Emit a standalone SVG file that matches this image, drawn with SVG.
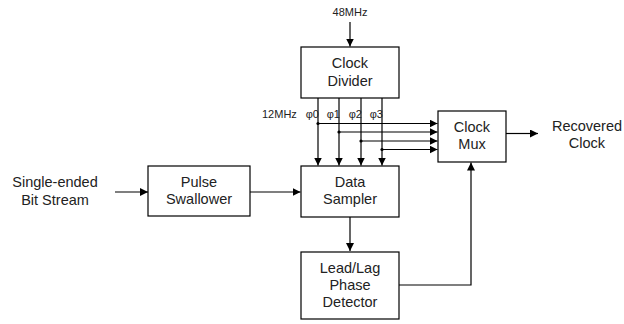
<svg xmlns="http://www.w3.org/2000/svg" width="624" height="324" viewBox="0 0 624 324">
<style>
.box{fill:#fff;stroke:#000;stroke-width:1.2}
.t{font-family:"Liberation Sans",Arial,"Noto Sans CJK KR",sans-serif;font-size:14.5px;fill:#222;text-anchor:middle}
.s{font-family:"Liberation Sans",Arial,"Noto Sans CJK KR",sans-serif;font-size:11px;fill:#222}
.ln{fill:none;stroke:#000;stroke-width:1.2}
</style>
<defs>
<marker id="ah" markerWidth="9" markerHeight="9" refX="8" refY="4" orient="auto" markerUnits="userSpaceOnUse">
<path d="M0,0 L8,4 L0,8 Z" fill="#000"/>
</marker>
</defs>
<g id="connectors">
<line class="ln" x1="350" y1="22" x2="350" y2="46.5" marker-end="url(#ah)"/>
<line class="ln" x1="318" y1="98" x2="318" y2="165.5" marker-end="url(#ah)"/>
<line class="ln" x1="339" y1="98" x2="339" y2="165.5" marker-end="url(#ah)"/>
<line class="ln" x1="361" y1="98" x2="361" y2="165.5" marker-end="url(#ah)"/>
<line class="ln" x1="382" y1="98" x2="382" y2="165.5" marker-end="url(#ah)"/>
<line class="ln" x1="318" y1="123.5" x2="437.5" y2="123.5" marker-end="url(#ah)"/>
<line class="ln" x1="339" y1="132" x2="437.5" y2="132" marker-end="url(#ah)"/>
<line class="ln" x1="361" y1="141" x2="437.5" y2="141" marker-end="url(#ah)"/>
<line class="ln" x1="382" y1="149.5" x2="437.5" y2="149.5" marker-end="url(#ah)"/>
<circle cx="318" cy="123.5" r="1.6"/>
<circle cx="339" cy="132" r="1.6"/>
<circle cx="361" cy="141" r="1.6"/>
<circle cx="382" cy="149.5" r="1.6"/>
<line class="ln" x1="115" y1="192" x2="148" y2="192" marker-end="url(#ah)"/>
<line class="ln" x1="250" y1="192" x2="300.5" y2="192" marker-end="url(#ah)"/>
<line class="ln" x1="350" y1="217" x2="350" y2="251" marker-end="url(#ah)"/>
<polyline class="ln" points="399,285 471,285 471,162.5" marker-end="url(#ah)"/>
<line class="ln" x1="506" y1="133.5" x2="538" y2="133.5" marker-end="url(#ah)"/>
</g>
<g id="clock-divider">
<rect class="box" x="301" y="47" width="98" height="51"/>
<text class="t" x="350" y="68">Clock</text>
<text class="t" x="350" y="86">Divider</text>
</g>
<g id="clock-mux">
<rect class="box" x="438" y="111" width="68" height="51"/>
<text class="t" x="472" y="132">Clock</text>
<text class="t" x="472" y="149">Mux</text>
</g>
<g id="pulse-swallower">
<rect class="box" x="148" y="166" width="102" height="50"/>
<text class="t" x="199" y="187">Pulse</text>
<text class="t" x="199" y="204">Swallower</text>
</g>
<g id="data-sampler">
<rect class="box" x="301" y="166" width="98" height="51"/>
<text class="t" x="350" y="187">Data</text>
<text class="t" x="350" y="204">Sampler</text>
</g>
<g id="lead-lag">
<rect class="box" x="301" y="252" width="98" height="67"/>
<text class="t" x="350" y="273">Lead/Lag</text>
<text class="t" x="350" y="290">Phase</text>
<text class="t" x="350" y="307">Detector</text>
</g>
<g id="labels">
<text class="s" x="350" y="16" text-anchor="middle">48MHz</text>
<text class="s" x="262" y="118">12MHz</text>
<text class="s" x="319" y="118" text-anchor="end">φ0</text>
<text class="s" x="340" y="118" text-anchor="end">φ1</text>
<text class="s" x="362" y="118" text-anchor="end">φ2</text>
<text class="s" x="383" y="118" text-anchor="end">φ3</text>
<text class="t" x="55" y="187">Single-ended</text>
<text class="t" x="55" y="205">Bit Stream</text>
<text class="t" x="587" y="131">Recovered</text>
<text class="t" x="587" y="148">Clock</text>
</g>
</svg>
